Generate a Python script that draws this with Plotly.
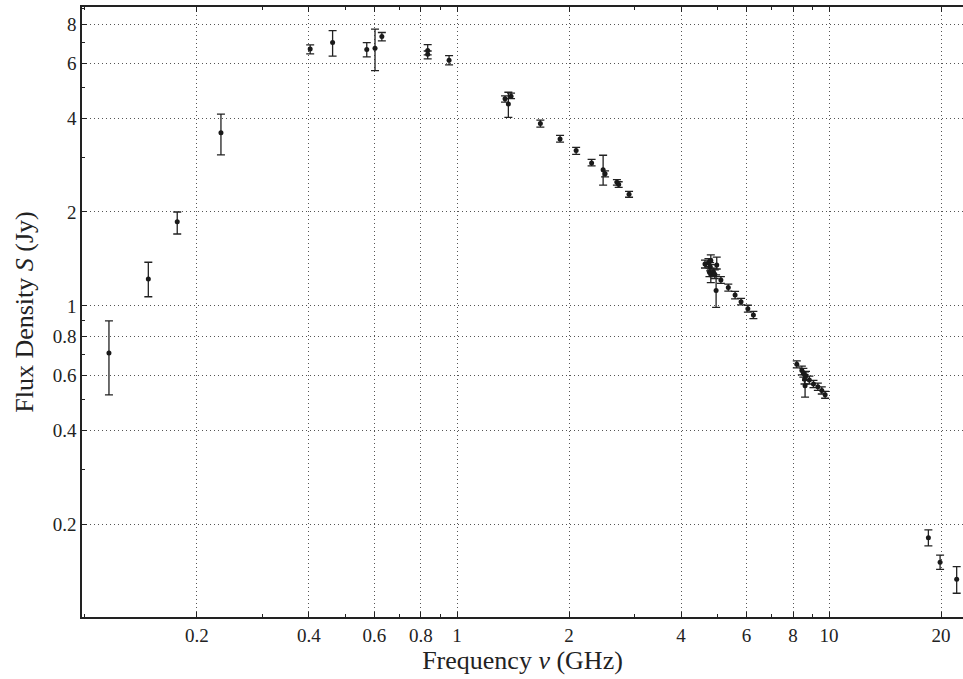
import plotly.graph_objects as go

# Frequency (GHz), flux density (Jy), upper/lower errors (Jy)
freq = [0.116, 0.148, 0.177, 0.232, 0.403, 0.463, 0.572, 0.602, 0.628,
        0.834, 0.834, 0.952,
        1.346, 1.374, 1.397, 1.675, 1.892, 2.09, 2.30, 2.47, 2.50, 2.69, 2.72, 2.90,
        4.64, 4.74, 4.81, 4.79, 4.77, 4.81, 4.89, 4.99, 4.97, 4.93, 5.12, 5.36, 5.59, 5.80, 6.05, 6.26,
        8.19, 8.45, 8.53, 8.59, 8.62, 8.67, 8.85, 9.08, 9.33, 9.56, 9.76,
        18.49, 19.88, 22.03]
flux = [0.707, 1.22, 1.86, 3.59, 6.66, 6.98, 6.63, 6.70, 7.30,
        6.58, 6.41, 6.13,
        4.61, 4.44, 4.70, 3.84, 3.43, 3.15, 2.87, 2.73, 2.65, 2.49, 2.45, 2.28,
        1.363, 1.377, 1.397, 1.336, 1.282, 1.264, 1.282, 1.353, 1.12, 1.264, 1.211, 1.145, 1.084, 1.032, 0.980, 0.936,
        0.650, 0.621, 0.611, 0.582, 0.555, 0.597, 0.579, 0.562, 0.551, 0.536, 0.519,
        0.1808, 0.1508, 0.133]
err_hi = [0.188, 0.16, 0.14, 0.53, 0.20, 0.65, 0.35, 1.01, 0.22,
          0.30, 0.15, 0.21,
          0.10, 0.40, 0.11, 0.10, 0.09, 0.07, 0.08, 0.31, 0.06, 0.05, 0.05, 0.05,
          0.04, 0.04, 0.06, 0.04, 0.04, 0.04, 0.04, 0.08, 0.137, 0.04, 0.03, 0.03, 0.03, 0.025, 0.025, 0.025,
          0.017, 0.02, 0.02, 0.02, 0.06, 0.02, 0.017, 0.015, 0.015, 0.014, 0.013,
          0.0106, 0.0082, 0.013]
err_lo = [0.188, 0.15, 0.16, 0.54, 0.24, 0.66, 0.35, 1.02, 0.23,
          0.20, 0.22, 0.21,
          0.11, 0.42, 0.08, 0.10, 0.08, 0.09, 0.06, 0.29, 0.06, 0.05, 0.05, 0.05,
          0.04, 0.04, 0.04, 0.04, 0.04, 0.076, 0.04, 0.04, 0.13, 0.04, 0.03, 0.03, 0.03, 0.025, 0.025, 0.025,
          0.017, 0.02, 0.02, 0.02, 0.045, 0.02, 0.017, 0.015, 0.015, 0.014, 0.013,
          0.0106, 0.0076, 0.013]

x_ticks = [0.2, 0.4, 0.6, 0.8, 1, 2, 4, 6, 8, 10, 20]
x_labels = ["0.2", "0.4", "0.6", "0.8", "1", "2", "4", "6", "8", "10", "20"]
x_minor = [0.1, 0.3, 0.5, 0.7, 0.9, 3, 5, 7, 9]
y_ticks = [0.2, 0.4, 0.6, 0.8, 1, 2, 4, 6, 8]
y_labels = ["0.2", "0.4", "0.6", "0.8", "1", "2", "4", "6", "8"]
y_minor = [0.3, 0.5, 0.7, 0.9, 3, 5, 7, 9]

font_family = "Liberation Serif"

fig = go.Figure()
fig.add_trace(go.Scatter(
    x=freq, y=flux, mode="markers",
    marker=dict(color="#1a1a1a", size=5),
    error_y=dict(type="data", symmetric=False, array=err_hi, arrayminus=err_lo,
                 color="#222222", thickness=1.3, width=4),
    showlegend=False,
))

axis_common = dict(
    type="log",
    showline=True, linecolor="#222222", linewidth=1.5,
    ticks="inside", ticklen=5, tickwidth=1, tickcolor="#222222",
    showgrid=True, gridcolor="#555555", griddash="1px,3px", gridwidth=1,
    zeroline=False,
    tickfont=dict(family=font_family, size=19, color="#222222"),
)

fig.update_xaxes(
    **axis_common,
    range=[-1.008, 1.360],
    tickmode="array", tickvals=x_ticks, ticktext=x_labels,
    mirror="ticks",
    minor=dict(tickmode="array", tickvals=x_minor, ticks="inside", ticklen=3,
               tickcolor="#222222", showgrid=False),
    title=dict(text="Frequency <i>ν</i> (GHz)", font=dict(family=font_family, size=26, color="#222222"),
               standoff=6),
)
fig.update_yaxes(
    **axis_common,
    range=[-0.997, 0.958],
    tickmode="array", tickvals=y_ticks, ticktext=y_labels,
    minor=dict(tickmode="array", tickvals=y_minor, ticks="inside", ticklen=3,
               tickcolor="#222222", showgrid=False),
    title=dict(text="Flux Density <i>S</i> (Jy)", font=dict(family=font_family, size=26, color="#222222"),
               standoff=12),
)

fig.update_layout(
    width=963, height=679,
    margin=dict(l=82, r=0, t=7, b=62),
    plot_bgcolor="white", paper_bgcolor="white",
)

fig.write_html("out.html",
               config={"displayModeBar": False},
               post_script="document.body.style.margin='0px';document.body.style.overflow='hidden';")
